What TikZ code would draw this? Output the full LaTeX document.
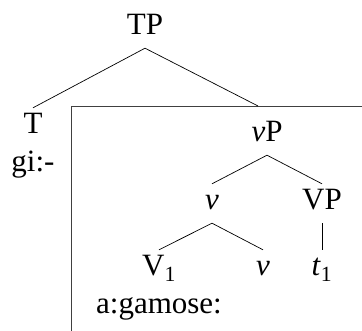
\documentclass[tikz,border=0pt]{standalone}
\usepackage{fontspec}
\setmainfont{Liberation Serif}
\usetikzlibrary{positioning}

\begin{document}
\begin{tikzpicture}[x=1pt, y=-1pt, cat/.style={font=\fontsize{31}{38}\selectfont, inner xsep=2pt, inner ysep=5pt, text height=21pt, text depth=8pt, anchor=base}]
\tikzstyle{stack}=[cat, align=center, text height=59pt]
\tikzstyle{branch}=[line width=0.7pt]
\tikzstyle{frame}=[line width=0.8pt, draw=black!75]

\useasboundingbox (0,0) rectangle (362,331);

\node (TP) [cat] at (145,35) {TP};
\node (T) [stack] at (33,172) {T\\gi:-};
\node (vP) [cat] at (267,142) {\textit{v}P};
\node (vmid) [cat] at (212,210) {\textit{v}};
\node (VP) [cat] at (322,210) {VP};
\node (V1) [stack] at (159,314) {V\textsubscript{1}\\a:gamose:};
\node (vlow) [cat] at (263,276) {\textit{v}};
\node (t1) [cat] at (322,276) {\textit{t}\textsubscript{1}};

% box
\coordinate (boxNW) at (71,106);
\coordinate (boxNE) at (362,106);
\coordinate (boxSW) at (71,331);
\coordinate (boxTP) at (258,106);
\draw [frame] (boxSW) -- (boxNW) -- (boxNE);

% branches
\draw [branch] (TP.south) -- (T.north);
\draw [branch] (TP.south) -- (boxTP);
\draw [branch] (vP.south) -- (vmid.north);
\draw [branch] (vP.south) -- (VP.north);
\draw [branch] (vmid.south) -- (V1.north);
\draw [branch] (vmid.south) -- (vlow.north);
\draw [branch] (VP.south) -- (t1.north);
\end{tikzpicture}
\end{document}
